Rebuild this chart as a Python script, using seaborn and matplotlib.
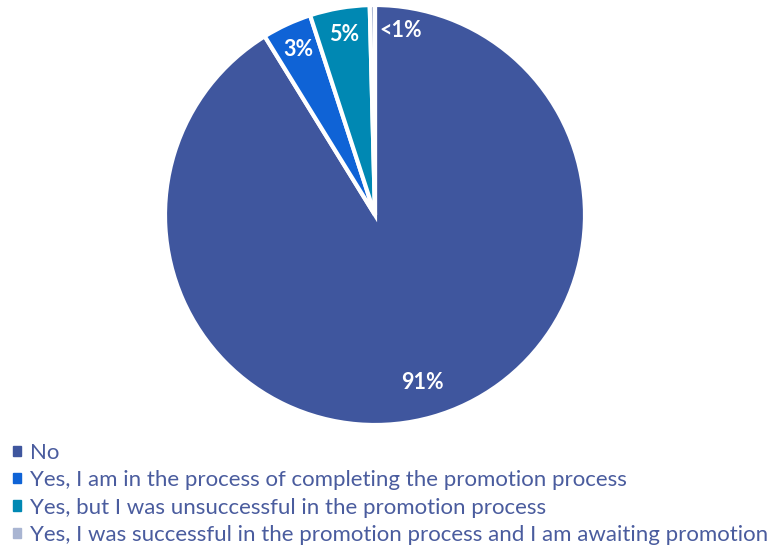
import matplotlib
matplotlib.use("Agg")
import matplotlib.pyplot as plt
import seaborn as sns
import numpy as np

sns.set_theme(style="white")
plt.rcParams['font.family'] = ['Lato', 'DejaVu Sans']

categories = ["No",
              "Yes, I am in the process of completing the promotion process",
              "Yes, but I was unsuccessful in the promotion process",
              "Yes, I was successful in the promotion process and I am awaiting promotion"]
values = [91.2, 3.8, 4.6, 0.4]
pct_labels = ["91%", "3%", "5%", "<1%"]
colors = ["#3F569E", "#0F63D6", "#0088B3", "#A9B5D2"]
text_color = "#4A5C9E"

fig = plt.figure(figsize=(7.69, 5.49), dpi=100)
R = 210 * 1.02
ax = fig.add_axes([(375 - R)/769, 1 - (215 + R)/549, 2*R/769, 2*R/549])
wedges, texts = ax.pie(values, colors=colors, startangle=90, counterclock=False,
                       wedgeprops=dict(edgecolor="white", linewidth=3))
ax.set_xlim(-1.02, 1.02)
ax.set_ylim(-1.02, 1.02)
ax.set_aspect("equal")

for i, (w, lab) in enumerate(zip(wedges, pct_labels)):
    ang = np.deg2rad((w.theta1 + w.theta2) / 2)
    r = 0.83 if i == 0 else 0.87
    x, y = r * np.cos(ang), r * np.sin(ang)
    ha = "center"
    if i == 3:
        ha = "left"
        x += 0.03
        y = 0.88
    ax.text(x, y, lab, ha=ha, va="center", color="white",
            fontsize=15.5, fontweight="bold")

handles = [plt.Rectangle((0, 0), 1, 1, color=c) for c in colors]
leg = fig.legend(handles, categories, loc="upper left",
                 bbox_to_anchor=(4/769, 1 - 434/549), frameon=False,
                 handlelength=0.35, handleheight=0.35, handletextpad=0.42,
                 labelspacing=0.33, fontsize=16, borderaxespad=0)
for t in leg.get_texts():
    t.set_color(text_color)

fig.savefig("out.png", dpi=100)
